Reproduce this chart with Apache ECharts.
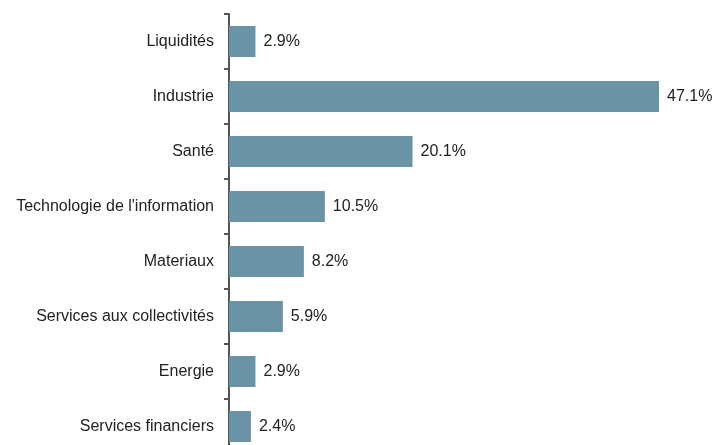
<!DOCTYPE html>
<html>
<head>
<meta charset="utf-8">
<script src="https://cdn.jsdelivr.net/npm/echarts@6/dist/echarts.min.js"></script>
<style>
  html, body { margin: 0; padding: 0; background: #ffffff; overflow: hidden; }
  /* taller than the window: the last row is cut off at the bottom, like the original */
  #chart { width: 715px; height: 470px; }
</style>
</head>
<body>
<div id="chart"></div>
<script>
const CATEGORIES = [
    'Liquidités', 'Industrie', 'Santé', "Technologie de l'information",
    'Materiaux', 'Services aux collectivités', 'Energie', 'Services financiers'
];
const VALUES = [2.9, 47.1, 20.1, 10.5, 8.2, 5.9, 2.9, 2.4];

const chart = echarts.init(document.getElementById('chart'));

chart.setOption({
    animation: false,
    textStyle: { fontFamily: 'Liberation Sans, Arial, sans-serif' },
    grid: { left: 229, top: 14, width: 456.5, height: 440, containLabel: false },
    xAxis: {
        type: 'value',
        min: 0,
        max: 50,
        show: false
    },
    yAxis: {
        type: 'category',
        inverse: true,
        data: CATEGORIES,
        axisLine: { show: true, lineStyle: { color: '#555555', width: 2 } },
        axisTick: { show: true, length: 5, lineStyle: { color: '#555555', width: 2 } },
        axisLabel: { color: '#222222', fontSize: 16, margin: 15 },
        splitLine: { show: false }
    },
    series: [{
        type: 'bar',
        data: VALUES,
        barWidth: 31,
        itemStyle: { color: '#6b93a6' },
        label: {
            show: true,
            position: 'right',
            distance: 8,
            color: '#222222',
            fontSize: 16,
            formatter: (p) => p.value.toFixed(1) + '%'
        }
    }]
});
</script>
</body>
</html>
